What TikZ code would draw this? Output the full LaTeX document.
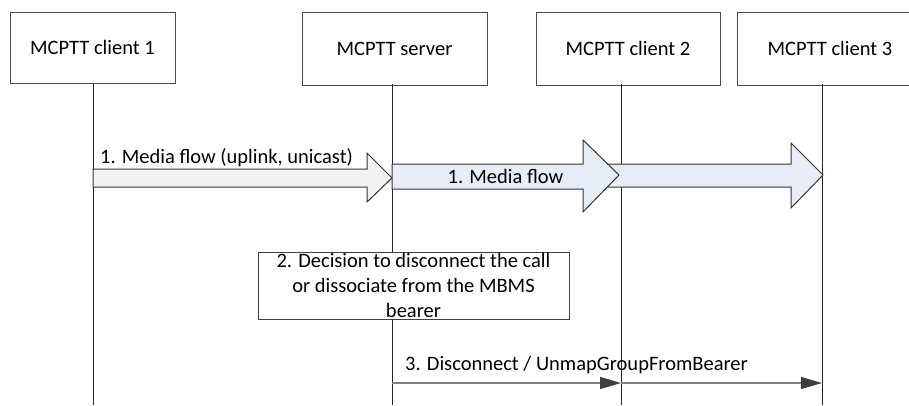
\documentclass[tikz,border=0pt]{standalone}
\usepackage{fontspec}
\setmainfont{Carlito}
\usetikzlibrary{arrows.meta}
\definecolor{uplinkfill}{HTML}{F2F2F2}
\definecolor{flowfill}{HTML}{E6EDF8}
\tikzset{
	entity/.style = {draw = black!70, line width = 1pt, minimum height = 73pt, inner sep = 0pt},
	lifeline/.style = {black!85, line width = 1pt},
	bigflow/.style = {draw = black!80, line width = 1pt, line join = miter},
	msg/.style = {black!50, line width = 1.2pt, -{Triangle[length = 21pt, width = 12pt, color = black!75]}}
}
\begin{document}
\begin{tikzpicture} [x = 1pt, y = -1pt, font = \fontsize{20.5}{24.6}\selectfont]
	\useasboundingbox (0,0) rectangle (909,405);
	\clip (0,0) rectangle (909,405);
	% entities
	\node [entity, minimum width = 165pt, minimum height = 71pt] (c1) at (92.5,47.5) {MCPTT client 1};
	\node [entity, minimum width = 185pt] (srv) at (394.5,48.5) {MCPTT server};
	\node [entity, minimum width = 184pt] (c2) at (628,48.5) {MCPTT client 2};
	\node [entity, minimum width = 186pt] (c3) at (830,48.5) {MCPTT client 3};
	% lifelines
	\foreach \x in {93, 392, 621, 822}
		\draw [lifeline] (\x,84) -- (\x,405);
	\coordinate (srv msg) at (392,383);
	\coordinate (c2 msg) at (621,383);
	\coordinate (c3 msg) at (822,383);
	% 1. media flow
	\draw [bigflow, fill = flowfill] (605,164) -- (791,164) -- (791,143) -- (823,175) -- (791,208) -- (791,187) -- (605,187) -- cycle;
	\draw [bigflow, fill = uplinkfill] (93,169) -- (367,169) -- (367,153) -- (392,178) -- (367,202) -- (367,187) -- (93,187) -- cycle;
	\draw [bigflow, fill = flowfill] (392,164) -- (583,164) -- (583,140) -- (619,175) -- (583,212) -- (583,189) -- (392,189) -- cycle;
	\node [anchor = base west, inner sep = 0pt] (uplink) at (100,163) {1. Media flow (uplink, unicast)};
	\node [anchor = base, inner sep = 0pt] (flow) at (505.5,183) {1. Media flow};
	% 2. decision
	\node [draw = black!75, line width = 1pt, fill = white, minimum width = 311pt, minimum height = 67pt, inner sep = 0pt, align = center] (decide) at (413.5,285.5) {2. Decision to disconnect the call\\or dissociate from the MBMS\\bearer};
	% 3. disconnect
	\node [anchor = base west, inner sep = 0pt] (unmap) at (405,370) {3. Disconnect / UnmapGroupFromBearer};
	\draw [msg] (srv msg) -- (c2 msg);
	\draw [msg] (c2 msg) -- (c3 msg);
\end{tikzpicture}
\end{document}
